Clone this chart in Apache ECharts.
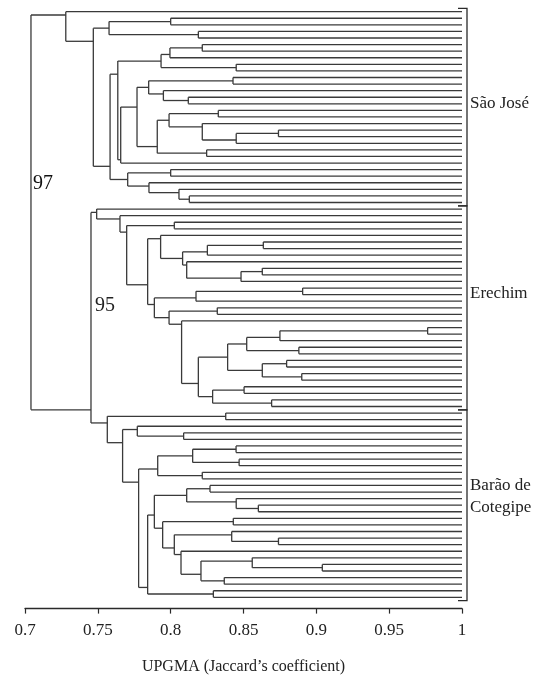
<!DOCTYPE html>
<html><head><meta charset="utf-8">
<script src="https://cdn.jsdelivr.net/npm/echarts@6/dist/echarts.min.js"></script>
<style>html,body{margin:0;padding:0;background:#fff}#c{width:558px;height:681px}</style>
</head><body><div id="c"></div>
<script>
// Tree data: a cluster is [similarity, left, right]; _ marks one accession (leaf)
const _ = null;

const saoJose = [0.728, _,
  [0.7469,
    [0.7577, [0.800, _, _], [0.819, _, _]],
    [0.7584,
      [0.7637,
        [0.7934, [0.7995, [0.8217, _, _], _], [0.845, _, _]],
        [0.7657,
          [0.7769,
            [0.7849, [0.8428, _, _], [0.795, _, [0.8121, _, _]]],
            [0.7908,
              [0.7989, [0.8327, _, _], [0.8217, _, [0.845, [0.874, _, _], _]]],
              [0.8247, _, _]]],
          _]],
      [0.7705, [0.800, _, _], [0.7851, _, [0.8057, _, [0.8128, _, _]]]]]]];

const erechim = [0.7492, _,
  [0.7652, _,
    [0.7698, [0.8025, _, _],
      [0.7842,
        [0.7931, _,
          [0.8082,
            [0.8252, [0.8636, _, _], _],
            [0.811, _, [0.8483, [0.8629, _, _], _]]]],
        [0.7888,
          [0.8174, [0.8906, _, _], _],
          [0.7989, [0.832, _, _],
            [0.8075, _,
              [0.819,
                [0.8391,
                  [0.8522, [0.875, [0.9764, _, _], _], [0.888, _, _]],
                  [0.8629, [0.8796, _, _], [0.890, _, _]]],
                [0.8288, [0.8504, _, _], [0.8693, _, _]]]]]]]]]];

const barao = [0.7565, [0.8378, _, _],
  [0.767, [0.7771, _, [0.8089, _, _]],
    [0.778,
      [0.7911, [0.8151, [0.8449, _, _], [0.847, _, _]], [0.8217, _, _]],
      [0.7842,
        [0.7888,
          [0.811, [0.827, _, _], [0.845, _, [0.8602, _, _]]],
          [0.7945, [0.843, _, _],
            [0.8025, [0.8419, _, [0.874, _, _]],
              [0.8071, _,
                [0.8208, [0.856, _, [0.9041, _, _]], [0.8368, _, _]]]]]],
        [0.8293, _, _]]]]];

const groupNames = ['São José', 'Erechim', 'Barão de\nCotegipe'];
const joinErechimBarao = 0.7453;
const rootJoin = 0.7041;
const bootstrapValues = ['97', '95'];
const xTickValues = [0.7, 0.75, 0.8, 0.85, 0.9, 0.95, 1];
const axisTitle = 'UPGMA (Jaccard’s coefficient)';

// ---- build segments from the tree ----
const groups = [saoJose, erechim, barao];
const root = [rootJoin, saoJose, [joinErechimBarao, erechim, barao]];
const LEAF_X = xTickValues[xTickValues.length - 1];
let leafCounter = 0;
const segs = [];
function layout(node) {
  if (node === null) { const i = leafCounter++; return {x: LEAF_X, lo: i, hi: i, conn: i}; }
  const s = node[0];
  const a = layout(node[1]);
  const b = layout(node[2]);
  segs.push([s, a.conn, s, b.conn]);      // vertical
  segs.push([s, a.conn, a.x, a.conn]);    // horizontal to left child
  segs.push([s, b.conn, b.x, b.conn]);    // horizontal to right child
  return {x: s, lo: a.lo, hi: b.hi, conn: a.hi + 0.5};
}
layout(root);
const nLeaves = leafCounter;
function countLeaves(n) { return n === null ? 1 : countLeaves(n[1]) + countLeaves(n[2]); }
const bounds = [];
let acc = 0;
groups.forEach(g => { const c = countLeaves(g); bounds.push([acc - 0.5, acc + c - 0.5]); acc += c; });

const FONT = 'Liberation Serif';
const INK = '#2a2a2a';
const chart = echarts.init(document.getElementById('c'), null, {renderer: 'canvas'});
chart.setOption({
  animation: false,
  backgroundColor: '#fff',
  grid: {left: 25, right: 96, top: 8.4, bottom: 80.4, containLabel: false},
  xAxis: {
    type: 'value', min: 0.7, max: 1, interval: 0.05, offset: 8,
    axisLine: {show: true, onZero: false, lineStyle: {color: INK, width: 1.3}},
    axisTick: {show: true, length: 5, lineStyle: {color: INK, width: 1.2}},
    axisLabel: {color: '#222', fontFamily: FONT, fontSize: 17, margin: 13,
      formatter: v => String(+v.toFixed(2))},
    splitLine: {show: false},
    name: axisTitle, nameLocation: 'middle', nameGap: 50,
    nameTextStyle: {color: '#222', fontFamily: FONT, fontSize: 16}
  },
  yAxis: {type: 'value', inverse: true, min: -0.5, max: nLeaves - 0.5, show: false},
  series: [
    {
      type: 'custom', clip: false, silent: true,
      encode: {x: [0, 2], y: [1, 3]},
      data: segs,
      renderItem: (params, api) => {
        const p1 = api.coord([api.value(0), api.value(1)]);
        const p2 = api.coord([api.value(2), api.value(3)]);
        return {type: 'line', shape: {x1: p1[0], y1: p1[1], x2: p2[0], y2: p2[1]},
          style: {stroke: '#3a3a3a', lineWidth: 1.3}};
      }
    },
    {
      type: 'custom', clip: false, silent: true,
      encode: {y: [0, 1]},
      data: bounds,
      renderItem: (params, api) => {
        const t = api.coord([LEAF_X, api.value(0)]);
        const b = api.coord([LEAF_X, api.value(1)]);
        const bx = t[0] + 5;
        return {type: 'polyline', shape: {points: [[bx - 9, t[1]], [bx, t[1]], [bx, b[1]], [bx - 9, b[1]]]},
          style: {stroke: INK, lineWidth: 1.3, fill: null}};
      }
    }
  ],
  graphic: [
    {type: 'text', left: 470, top: 95, style: {text: groupNames[0], font: '17px "Liberation Serif"', fill: '#222'}},
    {type: 'text', left: 470, top: 285, style: {text: groupNames[1], font: '17px "Liberation Serif"', fill: '#222'}},
    {type: 'text', left: 470, top: 475, style: {text: groupNames[2], font: '17px "Liberation Serif"', fill: '#222', lineHeight: 22}},
    {type: 'text', left: 33, top: 174, style: {text: bootstrapValues[0], font: '20px "Liberation Serif"', fill: '#111'}},
    {type: 'text', left: 95, top: 296, style: {text: bootstrapValues[1], font: '20px "Liberation Serif"', fill: '#222'}}
  ]
});
</script>
</body></html>
